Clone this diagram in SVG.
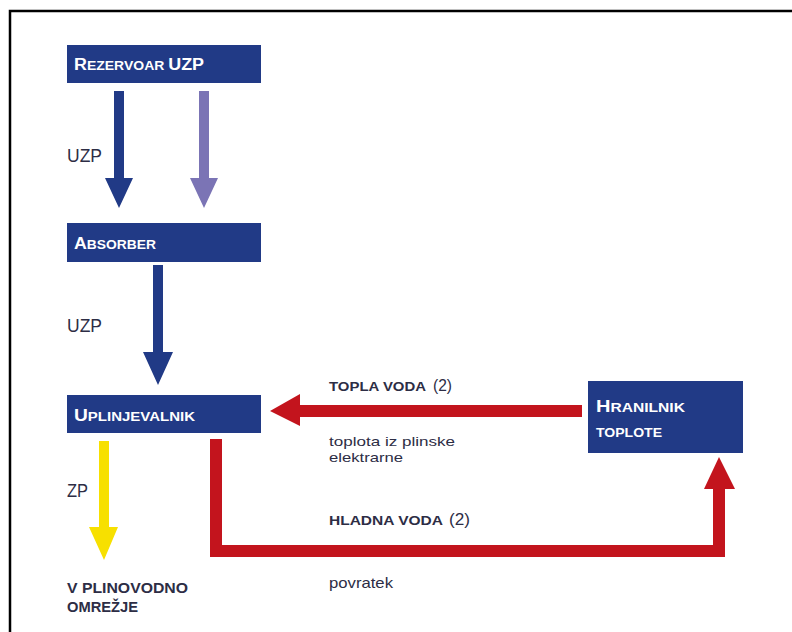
<svg xmlns="http://www.w3.org/2000/svg" width="792" height="632" viewBox="0 0 792 632">
<style>
.box{fill:#213a86}
.bt{fill:#ffffff;font-family:"Liberation Sans",Arial,sans-serif;font-weight:bold}
.lbl{fill:#2d2d45;font-family:"Liberation Sans",Arial,sans-serif}
.lb{fill:#2d2d45;font-family:"Liberation Sans",Arial,sans-serif;font-weight:bold}
</style>
<rect x="0" y="0" width="792" height="632" fill="#ffffff"/>
<path d="M10 632 V11 H792" fill="none" stroke="#000" stroke-width="2.5"/>
<g id="connectors">
<polygon fill="#213a86" points="114,91 124,91 124,178 133,178 119,208 105,178 114,178"/>
<polygon fill="#7b74b5" points="199,91 209,91 209,178 218,178 204,208 190,178 199,178"/>
<polygon fill="#213a86" points="153,265 163,265 163,352 173,352 158,385 143,352 153,352"/>
<polygon fill="#f7e000" points="99,441 109,441 109,527 118,527 104,560 89,527 99,527"/>
<polygon fill="#c3141d" points="582,405 582,417 300,417 300,426 270,411 300,394 300,405"/>
<polygon fill="#c3141d" points="210,439 222,439 222,545 713,545 713,489 704,489 719,457 735,489 725,489 725,557 210,557"/>
</g>
<g id="rezervoar">
<rect class="box" x="67" y="45" width="194" height="38"/>
<text class="bt" x="74" y="70" textLength="130" lengthAdjust="spacingAndGlyphs"><tspan font-size="16">R</tspan><tspan font-size="12.5">EZERVOAR </tspan><tspan font-size="16">UZP</tspan></text>
</g>
<g id="absorber">
<rect class="box" x="67" y="223" width="194" height="39"/>
<text class="bt" x="74" y="249" textLength="82" lengthAdjust="spacingAndGlyphs"><tspan font-size="16">A</tspan><tspan font-size="12.5">BSORBER</tspan></text>
</g>
<g id="uplinjevalnik">
<rect class="box" x="67" y="395" width="194" height="38"/>
<text class="bt" x="74" y="421" textLength="121" lengthAdjust="spacingAndGlyphs"><tspan font-size="16">U</tspan><tspan font-size="12.5">PLINJEVALNIK</tspan></text>
</g>
<g id="hranilnik">
<rect class="box" x="588" y="381" width="155" height="72"/>
<text class="bt" x="596" y="412" textLength="89" lengthAdjust="spacingAndGlyphs"><tspan font-size="16">H</tspan><tspan font-size="12.5">RANILNIK</tspan></text>
<text class="bt" x="596" y="437" font-size="13.5" textLength="66" lengthAdjust="spacingAndGlyphs">TOPLOTE</text>
</g>
<g id="labels">
<text class="lbl" x="67" y="162" font-size="19" textLength="35" lengthAdjust="spacingAndGlyphs">UZP</text>
<text class="lbl" x="67" y="332" font-size="19" textLength="35" lengthAdjust="spacingAndGlyphs">UZP</text>
<text class="lbl" x="67" y="497" font-size="19" textLength="21" lengthAdjust="spacingAndGlyphs">ZP</text>
<text class="lb" x="67" y="593" font-size="14.5" textLength="121" lengthAdjust="spacingAndGlyphs">V PLINOVODNO</text>
<text class="lb" x="67" y="612" font-size="14.5" textLength="71" lengthAdjust="spacingAndGlyphs">OMREŽJE</text>
<text class="lb" x="329" y="391" font-size="12.5" textLength="97" lengthAdjust="spacingAndGlyphs">TOPLA VODA</text>
<text class="lbl" x="433" y="391" font-size="17" textLength="19" lengthAdjust="spacingAndGlyphs">(2)</text>
<text class="lbl" x="329" y="446" font-size="13.5" textLength="126" lengthAdjust="spacingAndGlyphs">toplota iz plinske</text>
<text class="lbl" x="329" y="462" font-size="13.5" textLength="74" lengthAdjust="spacingAndGlyphs">elektrarne</text>
<text class="lb" x="329" y="525" font-size="12.5" textLength="114" lengthAdjust="spacingAndGlyphs">HLADNA VODA</text>
<text class="lbl" x="449" y="525" font-size="17" textLength="21" lengthAdjust="spacingAndGlyphs">(2)</text>
<text class="lbl" x="329" y="588" font-size="15" textLength="64" lengthAdjust="spacingAndGlyphs">povratek</text>
</g>
</svg>
